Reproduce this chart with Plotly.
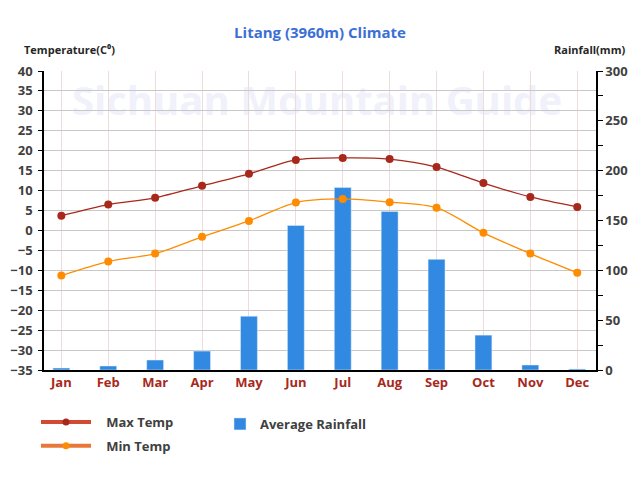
import plotly.graph_objects as go

months = ["Jan", "Feb", "Mar", "Apr", "May", "Jun", "Jul", "Aug", "Sep", "Oct", "Nov", "Dec"]
max_temp = [3.7, 6.5, 8.2, 11.2, 14.2, 17.7, 18.2, 17.9, 15.9, 11.9, 8.4, 5.9]
min_temp = [-11.3, -7.8, -5.8, -1.6, 2.4, 7.0, 7.9, 7.1, 5.7, -0.6, -5.8, -10.6]
rainfall = [2, 4, 10, 19, 54, 145, 183, 159, 111, 35, 5, 1]
temp_ticks = list(range(-35, 41, 5))
rain_ticks = list(range(0, 301, 50))

xi = list(range(len(months)))
FONT = "Open Sans"

fig = go.Figure()
fig.add_trace(go.Bar(x=xi, y=rainfall, yaxis="y", marker_color="#3189E2", width=0.36,
                     showlegend=False, name="Average Rainfall"))
fig.add_trace(go.Scatter(x=xi, y=max_temp, yaxis="y2", mode="lines+markers", name="Max Temp",
                         line=dict(color="#A8281C", width=1.3, shape="spline", smoothing=0.8),
                         marker=dict(color="#A8281C", size=8), showlegend=False))
fig.add_trace(go.Scatter(x=xi, y=min_temp, yaxis="y2", mode="lines+markers", name="Min Temp",
                         line=dict(color="#FF8C00", width=1.3, shape="spline", smoothing=0.8),
                         marker=dict(color="#FF8C00", size=8), showlegend=False))
# legend entries
fig.add_trace(go.Scatter(x=[None], y=[None], yaxis="y2", mode="lines+markers", name="   Max Temp",
                         line=dict(color="#D24A32", width=4), marker=dict(color="#A8281C", size=7),
                         legend="legend", legendgroup="a"))
fig.add_trace(go.Scatter(x=[None], y=[None], yaxis="y2", mode="lines+markers", name="   Min Temp",
                         line=dict(color="#E8783A", width=4), marker=dict(color="#FF8C00", size=7),
                         legend="legend", legendgroup="b"))
fig.add_trace(go.Bar(x=[None], y=[None], yaxis="y", marker_color="#3189E2", name="Average Rainfall",
                     legend="legend2"))

bold = "bold"
fig.update_layout(
    width=640, height=480,
    margin=dict(l=44, r=44, t=71, b=110, autoexpand=False),
    paper_bgcolor="white", plot_bgcolor="white",
    font=dict(family=FONT, color="#404040"),
    title=dict(text="Litang (3960m) Climate", x=0.5, xanchor="center", y=1 - 33 / 480, yanchor="middle",
               font=dict(size=15, color="#3C6FD6", family=FONT, weight=bold)),
    xaxis=dict(range=[-0.37, 11.4], tickvals=xi, ticktext=months, showgrid=True, gridcolor="#EEDCDC",
               gridwidth=1, zeroline=False, showline=True, linecolor="black", linewidth=1.5,
               tickfont=dict(size=13, color="#A8281C", family=FONT, weight=bold), ticks=""),
    yaxis=dict(side="right", range=[0, 300], tickvals=rain_ticks, showgrid=False, zeroline=False,
               showline=True, linecolor="black", linewidth=1.5, ticks="outside", ticklen=5,
               tickcolor="black", minor=dict(dtick=25, ticks="outside", ticklen=5, tickcolor="black"),
               tickfont=dict(size=13, color="#404040", weight=bold)),
    yaxis2=dict(side="left", overlaying="y", range=[-35, 40], tickvals=temp_ticks, showgrid=True,
                gridcolor="#C8C8C8", gridwidth=1, zeroline=False, showline=True, linecolor="black",
                linewidth=1.5, ticks="outside", ticklen=4, tickcolor="black",
                tickfont=dict(size=13, color="#404040", family=FONT, weight=bold), ticklabelstandoff=3),
    legend=dict(x=36 / 640, y=1 - 407 / 480, xref="container", yref="container", xanchor="left",
                yanchor="top", orientation="v", font=dict(size=13, color="#404040", weight=bold),
                bgcolor="rgba(0,0,0,0)", tracegroupgap=4, itemwidth=50),
    legend2=dict(x=220 / 640, y=1 - 409 / 480, xref="container", yref="container", xanchor="left",
                 yanchor="top", font=dict(size=13, color="#404040", weight=bold), bgcolor="rgba(0,0,0,0)"),
    shapes=[dict(type="rect", xref="paper", yref="paper", x0=0.4946 - 0.45, x1=0.4946 + 0.45,
                 y0=0.896 - 0.06, y1=0.896 + 0.06, layer="below",
                 line=dict(width=0), fillcolor="rgba(0,0,0,0)",
                 label=dict(text="<b>Sichuan Mountain Guide</b>", textposition="middle center",
                            font=dict(size=40, color="#F0F1FA", family=FONT)))],
    annotations=[
        dict(text="<b>Temperature(C⁰)</b>", x=22 / 640, y=1 - 49 / 480, xref="paper", yref="paper",
             showarrow=False, xanchor="left", yanchor="middle", font=dict(size=11, color="#262626")),
        dict(text="<b>Rainfall(mm)</b>", x=627 / 640, y=1 - 49 / 480, xref="paper", yref="paper",
             showarrow=False, xanchor="right", yanchor="middle", font=dict(size=11, color="#262626")),
    ],
)
# annotation positions given as fractions of the whole page; convert to paper coords
pw, ph = 640 - 88, 480 - 181
for a in fig.layout.annotations:
    a.x = (a.x * 640 - 44) / pw
    a.y = (370 - (1 - a.y) * 480) / ph
fig.write_html("out.html", config={"displayModeBar": False},
               post_script="document.body.style.margin='0';")
